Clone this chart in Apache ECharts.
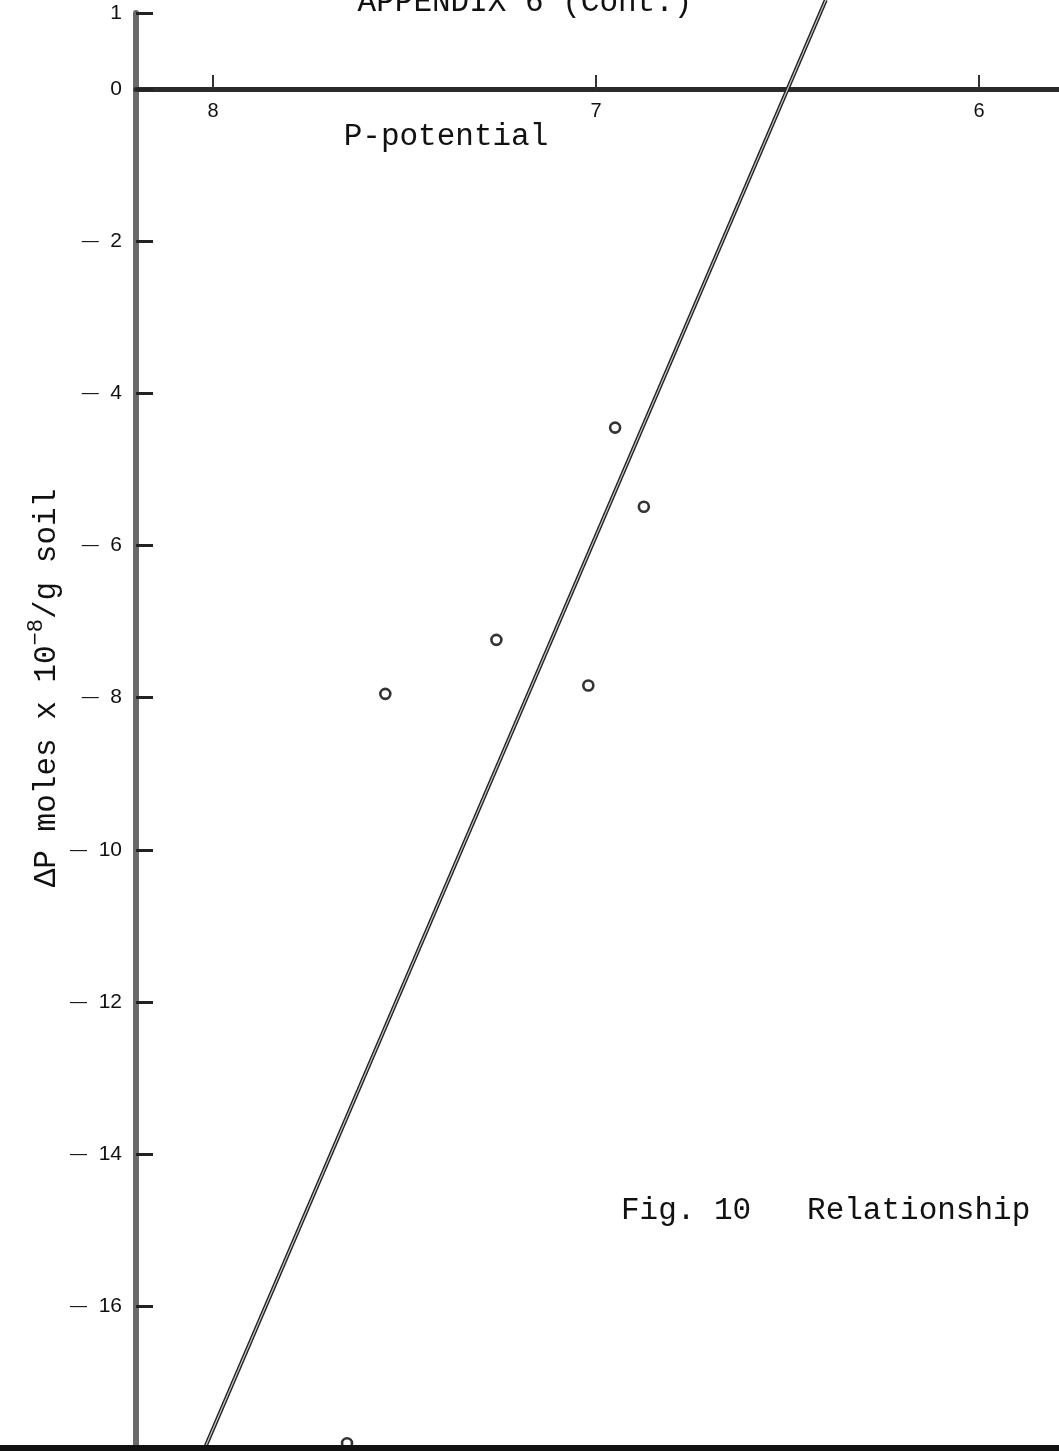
<!DOCTYPE html>
<html><head><meta charset="utf-8">
<script src="https://cdn.jsdelivr.net/npm/echarts@6/dist/echarts.min.js"></script>
<style>html,body{margin:0;padding:0;background:#fff}#c{width:1059px;height:1451px}</style>
</head><body><div id="c"></div>
<script>
// ---- data ----
const xTickValues = [8, 7, 6];
const yTickValues = [1, 0, -2, -4, -6, -8, -10, -12, -14, -16];
const pointX = [6.95, 6.875, 7.26, 7.55, 7.02, 7.65];
const pointY = [-4.45, -5.49, -7.24, -7.95, -7.84, -17.8];
const fitX = [8.02, 6.40];
const fitY = [-17.85, 1.17];
const xRange = [5.791, 8.201];
const yRange = [-17.85, 1];
const titleText = 'APPENDIX 6 (Cont.)';
const xName = 'P-potential';
const yNameMain = 'ΔP moles x 10';
const yNameSup = '\u22128';
const yNameTail = '/g soil';
const figText = 'Fig. 10   Relationship';

const chart = echarts.init(document.getElementById('c'), null, {renderer: 'canvas'});
const mono = '"Liberation Mono", "Courier New", monospace';
const sans = '"Liberation Sans Narrow", "Liberation Sans", Arial, sans-serif';
const points = pointX.map((x, i) => [x, pointY[i]]);
const fit = fitX.map((x, i) => [x, fitY[i]]);
const fmtY = v => v < 0 ? '{d|\u2014}  ' + Math.abs(v) : String(v);

const gridTop = 13;
const pxPerUnit = (1447 - gridTop) / (yRange[1] - yRange[0]);
const zeroOffset = -(yRange[1] * pxPerUnit);

const option = {
  animation: false,
  backgroundColor: '#fff',
  grid: {left: 136, right: 0, top: gridTop, bottom: 4, containLabel: false, outerBoundsMode: 'none'},
  xAxis: {
    type: 'value', inverse: true, min: xRange[0], max: xRange[1],
    position: 'top', offset: zeroOffset,
    axisLine: {show: true, onZero: false, lineStyle: {color: '#2a2a2a', width: 5}},
    axisTick: {show: true, inside: false, length: 14, customValues: xTickValues, lineStyle: {color: '#333', width: 2}},
    axisLabel: {customValues: xTickValues, inside: true, margin: 12, fontFamily: sans, fontSize: 20, color: '#111'},
    splitLine: {show: false}
  },
  yAxis: {
    type: 'value', min: yRange[0], max: yRange[1],
    axisLine: {show: true, onZero: false, lineStyle: {color: '#6a6a6a', width: 6}},
    axisTick: {show: true, inside: true, length: 17, customValues: yTickValues, lineStyle: {color: '#222', width: 3}},
    axisLabel: {customValues: yTickValues, formatter: fmtY, margin: 14, fontFamily: sans, fontSize: 21, color: '#111',
      rich: {d: {fontFamily: sans, fontSize: 17, color: '#111'}}},
    splitLine: {show: false}
  },
  series: [
    {type: 'line', data: fit, clip: false, symbol: 'none', lineStyle: {color: '#222', width: 4}, z: 3},
    {type: 'line', data: fit, clip: false, symbol: 'none', lineStyle: {color: '#c8c8c8', width: 1.2}, z: 4},
    {type: 'scatter', data: points, clip: false, symbol: 'circle', symbolSize: 10,
     itemStyle: {color: '#fff', borderColor: '#000', borderWidth: 2.6}, z: 5}
  ],
  graphic: [
    {type: 'rect', z: 100, shape: {x: 0, y: 1445, width: 1059, height: 6}, style: {fill: '#111'}},
    {type: 'text', z: 100, x: 525, y: 3, style: {text: titleText, font: '31px ' + mono, fill: '#111', align: 'center', verticalAlign: 'middle'}},
    {type: 'text', z: 100, x: 446, y: 137, style: {text: xName, font: '31px ' + mono, fill: '#111', align: 'center', verticalAlign: 'middle'}},
    {type: 'text', z: 100, x: 621, y: 1211, style: {text: figText, font: '31px ' + mono, fill: '#111', align: 'left', verticalAlign: 'middle'}},
    {type: 'text', z: 100, x: 47, y: 688, rotation: Math.PI / 2,
     style: {
       text: '{a|' + yNameMain + '}{s|' + yNameSup + '}{a|' + yNameTail + '}',
       align: 'center', verticalAlign: 'middle', fill: '#111',
       rich: {
         a: {fontFamily: mono, fontSize: 31, lineHeight: 44, verticalAlign: 'middle', fill: '#111', color: '#111'},
         s: {fontFamily: mono, fontSize: 22, verticalAlign: 'top', fill: '#111', color: '#111'}
       }
     }}
  ]
};
chart.setOption(option);
</script>
</body></html>
